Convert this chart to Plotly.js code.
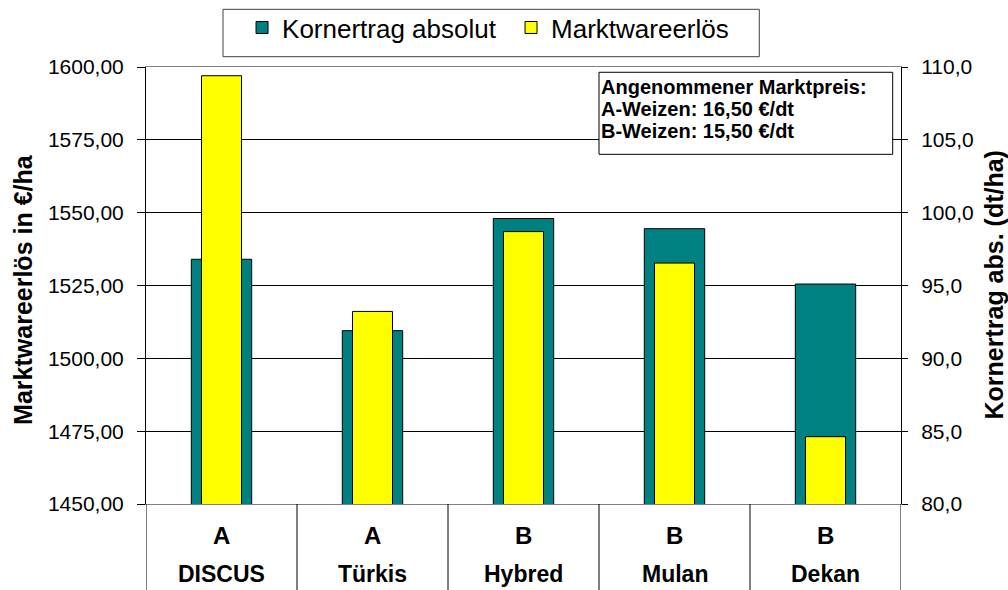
<!DOCTYPE html>
<html>
<head>
<meta charset="utf-8">
<script src="https://cdn.plot.ly/plotly-3.0.1.min.js"></script>
<style>html,body{margin:0;padding:0;background:#fff;}#chart{width:1008px;height:590px;}</style>
</head>
<body>
<div id="chart"></div>
<script>
const categories = ['DISCUS', 'Türkis', 'Hybred', 'Mulan', 'Dekan'];
const grades = ['A', 'A', 'B', 'B', 'B'];
const kornertrag = [96.8, 91.9, 99.6, 98.9, 95.1];
const marktwareerloes = [1597.0, 1516.1, 1543.5, 1532.7, 1473.1];
const noteLines = ['Angenommener Marktpreis:', 'A-Weizen: 16,50 €/dt', 'B-Weizen: 15,50 €/dt'];
const leftTitle = 'Marktwareerlös in €/ha';
const rightTitle = 'Kornertrag abs. (dt/ha)';

const FONT = 'Liberation Sans, Arial, sans-serif';

const traces = [
  {
    type: 'bar', name: 'Kornertrag absolut', x: categories, y: kornertrag,
    xaxis: 'x', yaxis: 'y', width: 0.4,
    marker: {color: '#008080', line: {color: '#000', width: 1}},
    hoverinfo: 'skip'
  },
  {
    type: 'bar', name: 'Marktwareerlös', x: categories, y: marktwareerloes,
    xaxis: 'x', yaxis: 'y2', width: 0.265,
    marker: {color: '#FFFF00', line: {color: '#000', width: 1}},
    hoverinfo: 'skip'
  }
];

const annotations = [];
categories.forEach((c, i) => {
  annotations.push({x: c, xref: 'x', y: -0.073, yref: 'paper', yanchor: 'middle', text: grades[i],
    showarrow: false, font: {family: FONT, size: 24, weight: 700, color: '#000'}});
  annotations.push({x: c, xref: 'x', y: -0.160, yref: 'paper', yanchor: 'middle', text: c,
    showarrow: false, font: {family: FONT, size: 23, weight: 700, color: '#000'}});
});
const noteY = [0.9535, 0.9032, 0.8542];
noteLines.forEach((t, i) => {
  annotations.push({x: 0.6004, xref: 'paper', xanchor: 'left', y: noteY[i], yref: 'paper', yanchor: 'middle',
    text: t, showarrow: false, font: {family: FONT, size: 20, weight: 700, color: '#000'}});
});
annotations.push({x: -0.1629, xref: 'paper', xanchor: 'center', y: 0.49, yref: 'paper', yanchor: 'middle',
  text: leftTitle, textangle: -90, showarrow: false, font: {family: FONT, size: 25, weight: 700, color: '#000'}});
annotations.push({x: 1.1219, xref: 'paper', xanchor: 'center', y: 0.5, yref: 'paper', yanchor: 'middle',
  text: rightTitle, textangle: -90, showarrow: false, font: {family: FONT, size: 25, weight: 700, color: '#000'}});

const shapes = [
  {type: 'rect', xref: 'paper', yref: 'paper', x0: 0.6, x1: 0.989, y0: 0.8002, y1: 0.9879,
   fillcolor: '#fff', line: {color: '#000', width: 1}, layer: 'above'},
  {type: 'rect', xref: 'paper', yref: 'paper', x0: 0.102, x1: 0.8123, y0: 1.0236, y1: 1.132,
   fillcolor: 'rgba(0,0,0,0)', line: {color: '#404040', width: 1}, layer: 'above'}
];
for (let i = 0; i <= categories.length; i++) {
  shapes.push({type: 'line', xref: 'x', yref: 'paper', x0: i - 0.5, x1: i - 0.5, y0: 0, y1: -0.25,
    line: {color: '#000', width: 1}, layer: 'above'});
}

const layout = {
  width: 1008, height: 590,
  margin: {l: 146, r: 107, t: 67, b: 86, autoexpand: false},
  paper_bgcolor: '#fff', plot_bgcolor: '#fff',
  font: {family: FONT, color: '#000'},
  separators: ',.',
  barmode: 'overlay',
  showlegend: true,
  legend: {
    orientation: 'h', x: 0.1272, xanchor: 'left', y: 1.144, yanchor: 'top',
    borderwidth: 0, bgcolor: 'rgba(0,0,0,0)', entrywidth: 224,
    font: {family: FONT, size: 26, color: '#000'}, traceorder: 'normal'
  },
  xaxis: {
    type: 'category', range: [-0.5, 4.5],
    showticklabels: false, ticks: '',
    showline: true, linecolor: '#808080', linewidth: 1, mirror: true,
    showgrid: false, zeroline: false, fixedrange: true
  },
  yaxis: {
    side: 'right', range: [80, 110], dtick: 5, tick0: 80, tickformat: '.1f',
    showgrid: false, zeroline: false,
    showline: true, linecolor: '#000', linewidth: 1,
    ticks: 'outside', ticklen: 6, tickcolor: '#000', ticklabelstandoff: 9,
    tickfont: {family: FONT, size: 21, color: '#000'},
    fixedrange: true
  },
  yaxis2: {
    overlaying: 'y', side: 'left', range: [1450, 1600], dtick: 25, tick0: 1450, tickformat: '.2f',
    showgrid: true, gridcolor: '#000', gridwidth: 1, zeroline: false,
    showline: true, linecolor: '#000', linewidth: 1,
    ticks: 'outside', ticklen: 8, tickcolor: '#000', ticklabelstandoff: 9,
    tickfont: {family: FONT, size: 21, color: '#000'},
    fixedrange: true
  },
  annotations: annotations,
  shapes: shapes
};

Plotly.newPlot('chart', traces, layout, {displayModeBar: false, staticPlot: true});
</script>
</body>
</html>
